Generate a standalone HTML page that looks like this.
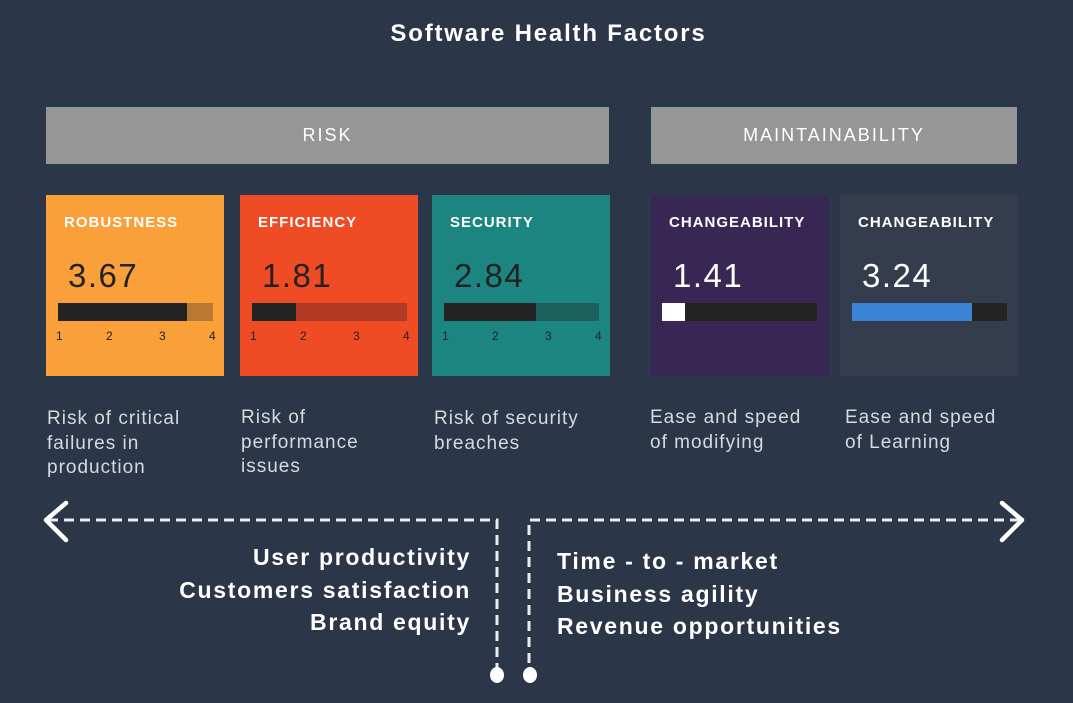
<!DOCTYPE html>
<html><head><meta charset="utf-8"><style>
body{margin:0;width:1073px;height:703px;background:#2b3748;font-family:"Liberation Sans",sans-serif;position:relative;overflow:hidden}
.a{position:absolute}
.t{color:#fff;font-weight:bold}
.hdr{background:#969696;color:#fff;font-size:18px;display:flex;align-items:center;justify-content:center;letter-spacing:2px}
.card .ttl{position:absolute;left:18px;top:19px;font-size:15px;font-weight:bold;color:#fff;letter-spacing:1px}
.card .num{position:absolute;left:22px;top:62px;font-size:33px;color:#222;letter-spacing:1.5px}
.bar{position:absolute;left:12px;top:108px;width:155px;height:18px}
.tk{position:absolute;top:134px;font-size:12px;color:#222}
.desc{font-size:19px;color:#d6d9de;line-height:24.5px;letter-spacing:1px}
.b{font-size:23px;color:#fff;font-weight:bold;line-height:32.5px;letter-spacing:1.7px}
</style></head><body>
<div class="a t" style="left:0;width:1097px;text-align:center;top:20px;font-size:24px;letter-spacing:1.8px">Software Health Factors</div>
<div class="a hdr" style="left:46px;top:107px;width:563px;height:57px">RISK</div>
<div class="a hdr" style="left:651px;top:107px;width:366px;height:57px">MAINTAINABILITY</div>

<div class="a card" style="left:46px;top:195px;width:178px;height:181px;background:#f9a03a">
<div class="ttl">ROBUSTNESS</div><div class="num">3.67</div>
<div class="bar" style="background:#b87933"><div style="width:129px;height:100%;background:#232323"></div></div>
<div class="tk" style="left:10px">1</div><div class="tk" style="left:60px">2</div><div class="tk" style="left:113px">3</div><div class="tk" style="left:163px">4</div></div>

<div class="a card" style="left:240px;top:195px;width:178px;height:181px;background:#ef4b25">
<div class="ttl">EFFICIENCY</div><div class="num">1.81</div>
<div class="bar" style="background:#b13a24"><div style="width:44px;height:100%;background:#232323"></div></div>
<div class="tk" style="left:10px">1</div><div class="tk" style="left:60px">2</div><div class="tk" style="left:113px">3</div><div class="tk" style="left:163px">4</div></div>

<div class="a card" style="left:432px;top:195px;width:178px;height:181px;background:#1c8580">
<div class="ttl">SECURITY</div><div class="num">2.84</div>
<div class="bar" style="background:#1c5f5d"><div style="width:92px;height:100%;background:#232323"></div></div>
<div class="tk" style="left:10px">1</div><div class="tk" style="left:60px">2</div><div class="tk" style="left:113px">3</div><div class="tk" style="left:163px">4</div></div>

<div class="a card" style="left:651px;top:195px;width:178px;height:181px;background:#372752">
<div class="ttl">CHANGEABILITY</div><div class="num" style="color:#fff">1.41</div>
<div class="bar" style="left:11px;background:#232323"><div style="width:23px;height:100%;background:#fff"></div></div></div>

<div class="a card" style="left:840px;top:195px;width:178px;height:181px;background:#353c4d">
<div class="ttl">CHANGEABILITY</div><div class="num" style="color:#fff">3.24</div>
<div class="bar" style="background:#232323"><div style="width:120px;height:100%;background:#3b83d4"></div></div></div>

<div class="a desc" style="left:47px;top:407px">Risk of critical<br>failures in<br>production</div>
<div class="a desc" style="left:241px;top:406px">Risk of<br>performance<br>issues</div>
<div class="a desc" style="left:434px;top:407px">Risk of security<br>breaches</div>
<div class="a desc" style="left:650px;top:406px">Ease and speed<br>of modifying</div>
<div class="a desc" style="left:845px;top:406px">Ease and speed<br>of Learning</div>

<svg class="a" style="left:0;top:0" width="1073" height="703">
<g stroke="#e8ebef" stroke-width="3" fill="none" stroke-dasharray="10 6">
<path d="M48 520 H497 V668"/><path d="M1020 520 H529 V668"/></g>
<g stroke="#fff" stroke-width="4.5" fill="none" stroke-linecap="round" stroke-linejoin="round">
<path d="M66 503 L46 520 L66 540"/><path d="M1002 503 L1022 520 L1002 540"/></g>
<ellipse cx="497" cy="675" rx="7" ry="8" fill="#fff"/><ellipse cx="530" cy="675" rx="7" ry="8" fill="#fff"/>
</svg>
<div class="a b" style="right:602px;top:541px;text-align:right">User productivity<br>Customers satisfaction<br>Brand equity</div>
<div class="a b" style="left:557px;top:545px">Time - to - market<br>Business agility<br>Revenue opportunities</div>
</body></html>
